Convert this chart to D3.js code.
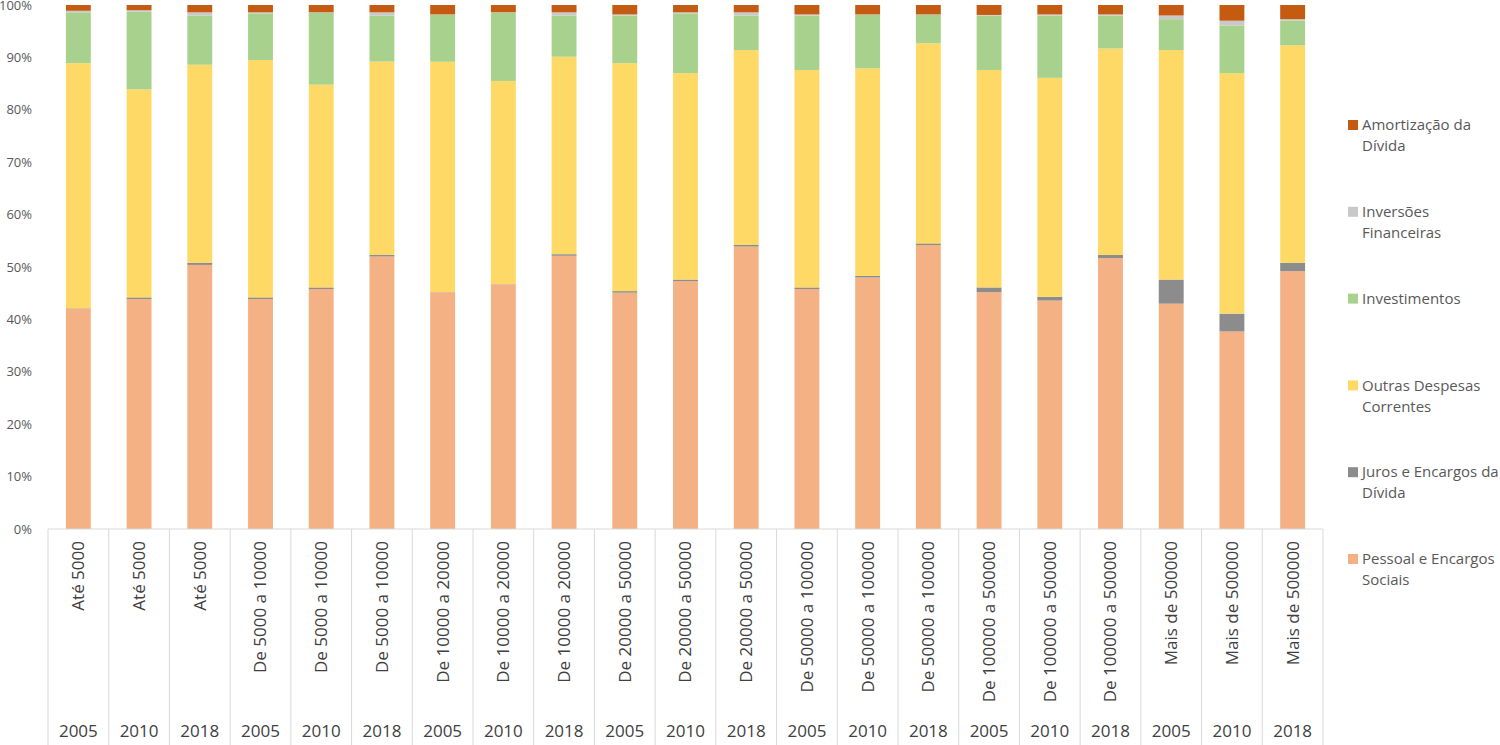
<!DOCTYPE html>
<html>
<head>
<meta charset="utf-8">
<script src="https://cdn.jsdelivr.net/npm/d3@7"></script>
<style>
  body { margin: 0; background: #fff; }
  text { font-family: "Open Sans", sans-serif; }
</style>
</head>
<body>
<div id="chart"></div>
<script>
// categories: population range + year
const sizes = ["Até 5000", "Até 5000", "Até 5000",
  "De 5000 a 10000", "De 5000 a 10000", "De 5000 a 10000",
  "De 10000 a 20000", "De 10000 a 20000", "De 10000 a 20000",
  "De 20000 a 50000", "De 20000 a 50000", "De 20000 a 50000",
  "De 50000 a 100000", "De 50000 a 100000", "De 50000 a 100000",
  "De 100000 a 500000", "De 100000 a 500000", "De 100000 a 500000",
  "Mais de 500000", "Mais de 500000", "Mais de 500000"];
const years = ["2005", "2010", "2018", "2005", "2010", "2018", "2005", "2010", "2018",
  "2005", "2010", "2018", "2005", "2010", "2018", "2005", "2010", "2018",
  "2005", "2010", "2018"];

// series values (% of total)
const pessoal   = [42.0, 43.9, 50.4, 43.9, 45.8, 52.0, 45.2, 46.7, 52.3, 45.1, 47.3, 53.9, 45.8, 48.0, 54.2, 45.2, 43.6, 51.7, 43.0, 37.7, 49.2];
const juros     = [0.1, 0.3, 0.4, 0.3, 0.3, 0.3, 0.05, 0.05, 0.3, 0.3, 0.3, 0.3, 0.3, 0.3, 0.3, 0.9, 0.7, 0.6, 4.6, 3.4, 1.6];
const outras    = [46.8, 39.7, 37.8, 45.3, 38.7, 36.9, 44.0, 38.8, 37.8, 43.5, 39.4, 37.2, 41.5, 39.6, 38.2, 41.5, 41.8, 39.4, 43.8, 45.9, 41.5];
const invest    = [9.7, 14.8, 9.4, 8.9, 13.7, 8.8, 9.0, 13.0, 7.9, 9.1, 11.4, 6.6, 10.4, 10.2, 5.4, 10.4, 11.9, 6.3, 5.9, 9.1, 4.7];
const inversoes = [0.3, 0.3, 0.6, 0.2, 0.1, 0.6, 0.05, 0.1, 0.6, 0.2, 0.2, 0.6, 0.2, 0.1, 0.1, 0.1, 0.2, 0.2, 0.7, 0.9, 0.3];
const amort     = [1.1, 1.0, 1.4, 1.4, 1.4, 1.4, 1.8, 1.4, 1.4, 1.8, 1.4, 1.4, 1.8, 1.8, 1.8, 1.9, 1.8, 1.8, 2.0, 3.0, 2.7];

const seriesNames = ["Pessoal e Encargos Sociais", "Juros e Encargos da Dívida", "Outras Despesas Correntes",
  "Investimentos", "Inversões Financeiras", "Amortização da Dívida"];
const seriesValues = [pessoal, juros, outras, invest, inversoes, amort];
const colors = ["#F4B183", "#8C8C8C", "#FFD966", "#A9D18E", "#C9C9C9", "#C55A11"];
const yTicks = [0, 0.1, 0.2, 0.3, 0.4, 0.5, 0.6, 0.7, 0.8, 0.9, 1];

const width = 1500, height = 745;
const plot = { left: 48, right: 1323, top: 5, bottom: 529 };

// build rows for the stack
const rows = sizes.map((s, i) => {
  const r = { key: i };
  seriesNames.forEach((n, j) => r[n] = seriesValues[j][i]);
  return r;
});

const stack = d3.stack().keys(seriesNames).offset(d3.stackOffsetExpand);
const stacked = stack(rows);

const x = d3.scaleBand()
  .domain(rows.map(d => d.key))
  .range([plot.left, plot.right])
  .paddingInner(0.59)
  .paddingOuter(0.295);
const step = x.step();

const y = d3.scaleLinear().domain([0, 1]).range([plot.bottom, plot.top]);

const svg = d3.select("#chart").append("svg")
  .attr("width", width)
  .attr("height", height);

// bars
svg.append("g").selectAll("g")
  .data(stacked)
  .enter().append("g")
  .attr("fill", (d, i) => colors[i])
  .selectAll("rect")
  .data(d => d)
  .enter().append("rect")
  .attr("x", d => x(d.data.key))
  .attr("width", x.bandwidth())
  .attr("y", d => y(d[1]))
  .attr("height", d => y(d[0]) - y(d[1]));

// y axis labels (no line)
const yAxis = svg.append("g")
  .attr("transform", "translate(" + (plot.left - 16) + ",0)")
  .call(d3.axisLeft(y).tickValues(yTicks).tickFormat(d3.format(".0%")).tickSize(0).tickPadding(0));
yAxis.select(".domain").remove();
yAxis.selectAll("text")
  .attr("fill", "#595959")
  .style("font-size", "13px")
  .style("font-family", "Open Sans, sans-serif");

// category box lines
const grid = "#D9D9D9";
svg.append("line")
  .attr("x1", plot.left).attr("x2", plot.right)
  .attr("y1", plot.bottom).attr("y2", plot.bottom)
  .attr("stroke", grid);

const bounds = d3.range(rows.length + 1).map(i => plot.left + i * step);
svg.append("g").selectAll("line")
  .data(bounds)
  .enter().append("line")
  .attr("x1", d => d).attr("x2", d => d)
  .attr("y1", plot.bottom).attr("y2", height)
  .attr("stroke", grid);

// rotated size labels
svg.append("g").selectAll("text")
  .data(rows)
  .enter().append("text")
  .attr("transform", d => "translate(" + (x(d.key) + x.bandwidth() / 2) + ",541) rotate(-90)")
  .attr("dy", "0.35em")
  .attr("text-anchor", "end")
  .attr("fill", "#404040")
  .style("font-size", "17px")
  .text(d => sizes[d.key]);

// year labels
svg.append("g").selectAll("text")
  .data(rows)
  .enter().append("text")
  .attr("x", d => x(d.key) + x.bandwidth() / 2)
  .attr("y", 737)
  .attr("text-anchor", "middle")
  .attr("fill", "#404040")
  .style("font-size", "17px")
  .text(d => years[d.key]);

// legend, top item is the last series
const legend = svg.append("g");
const legendOrder = d3.range(seriesNames.length).reverse();
legendOrder.forEach((si, k) => {
  const gy = 125 + k * 86.8;
  const g = legend.append("g").attr("transform", "translate(1348," + gy + ")");
  g.append("rect")
    .attr("x", 0).attr("y", -5)
    .attr("width", 10).attr("height", 10)
    .attr("fill", colors[si]);
  const t = g.append("text")
    .attr("x", 14)
    .attr("fill", "#595959")
    .style("font-size", "15px");
  // simple word wrap
  const words = seriesNames[si].split(" ");
  let line = [], lineNo = 0;
  let tspan = t.append("tspan").attr("x", 14).attr("dy", "0.35em");
  words.forEach(w => {
    line.push(w);
    tspan.text(line.join(" "));
    if (tspan.node().getComputedTextLength() > 142 && line.length > 1) {
      line.pop();
      tspan.text(line.join(" "));
      line = [w];
      lineNo++;
      tspan = t.append("tspan").attr("x", 14).attr("dy", "21px").text(w);
    }
  });
});
</script>
</body>
</html>
